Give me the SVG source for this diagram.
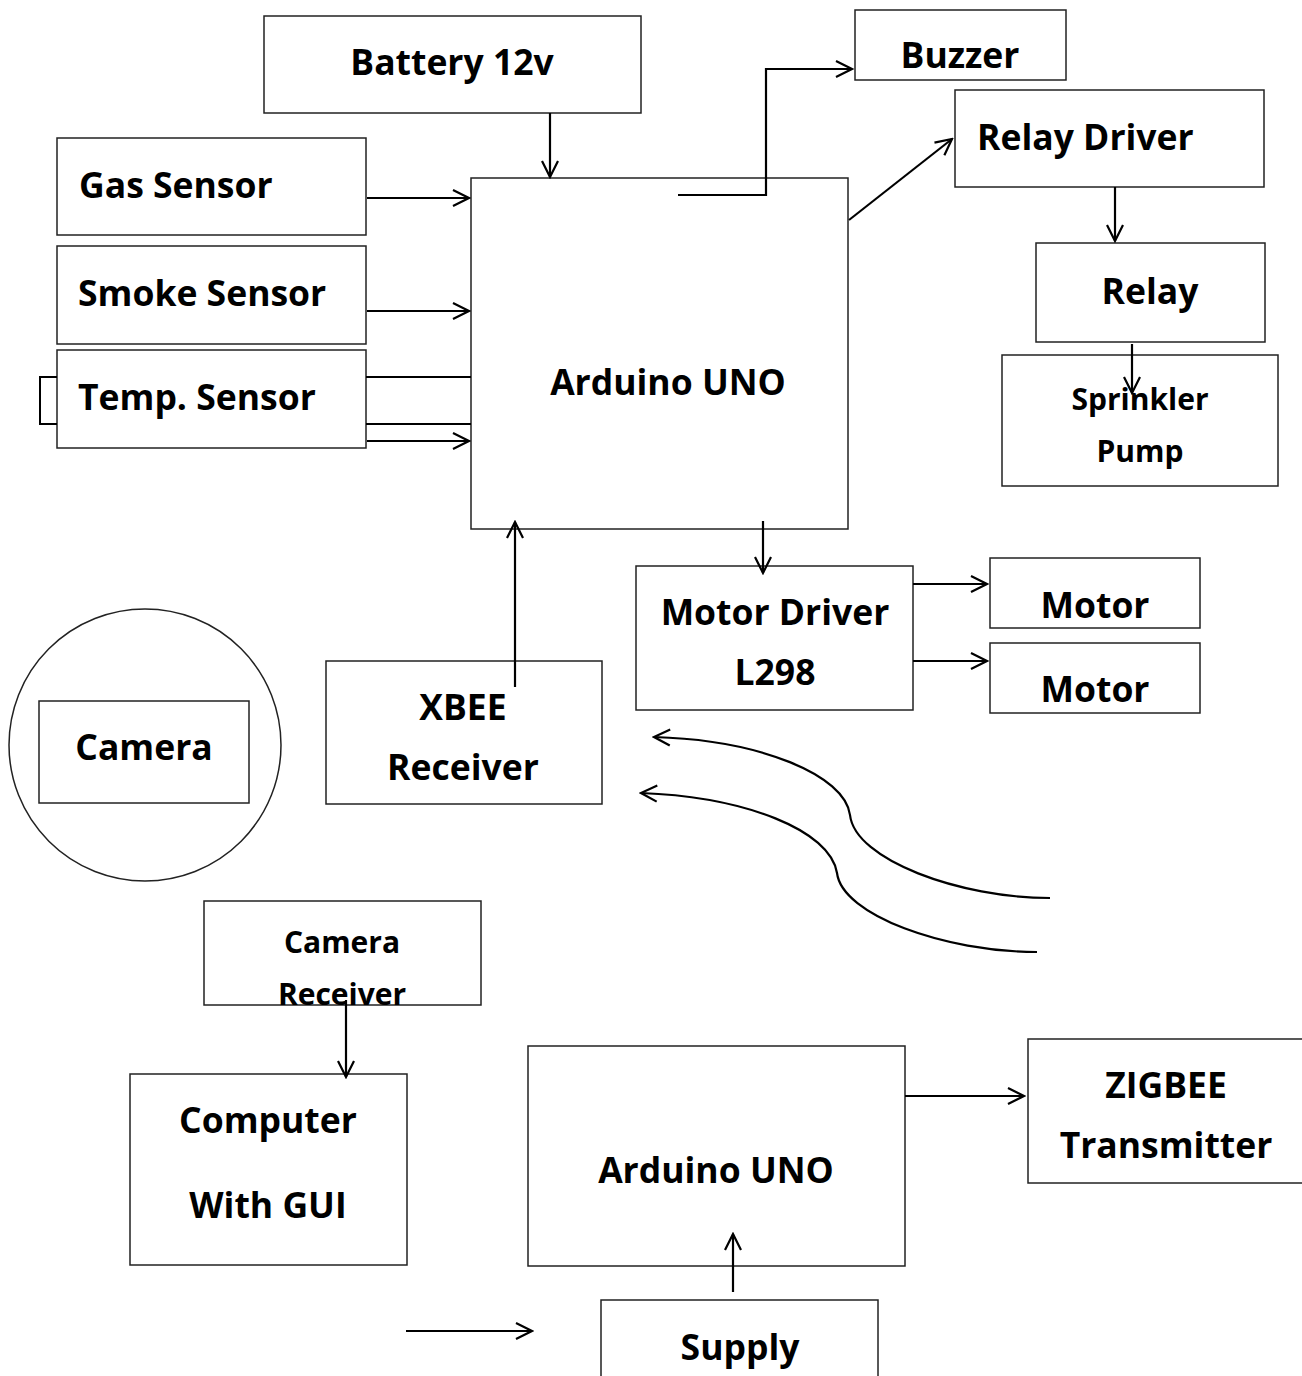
<svg xmlns="http://www.w3.org/2000/svg" width="1302" height="1376" viewBox="0 0 1302 1376">
<style>
.box{fill:#fff;stroke:#222;stroke-width:1.5}
.t{font-family:"Open Sans","Liberation Sans",sans-serif;font-weight:bold;font-size:35.5px;fill:#000}
.s{font-size:30px}
.c{text-anchor:middle}
.ln{fill:none;stroke:#000;stroke-width:2}
.ar{fill:none;stroke:#000;stroke-width:2.2;marker-end:url(#ah)}
</style>
<defs>
<marker id="ah" viewBox="0 0 20 20" refX="18" refY="10" markerWidth="20" markerHeight="20" markerUnits="userSpaceOnUse" orient="auto">
<path d="M2,2 L18,10 L2,18" fill="none" stroke="#000" stroke-width="2.2"/>
</marker>
</defs>
<rect width="1302" height="1376" fill="#fff"/>
<g id="battery"><rect class="box" x="264" y="16" width="377" height="97"/><text class="t c" x="452" y="75">Battery 12v</text></g>
<g id="buzzer"><rect class="box" x="855" y="10" width="211" height="70"/><text class="t c" x="960" y="68">Buzzer</text></g>
<g id="relay-driver"><rect class="box" x="955" y="90" width="309" height="97"/><text class="t" x="977" y="150">Relay Driver</text></g>
<g id="gas"><rect class="box" x="57" y="138" width="309" height="97"/><text class="t" x="79" y="198">Gas Sensor</text></g>
<g id="smoke"><rect class="box" x="57" y="246" width="309" height="98"/><text class="t" x="78" y="306">Smoke Sensor</text></g>
<g id="temp"><rect class="box" x="57" y="350" width="309" height="98"/><text class="t" x="78" y="410">Temp. Sensor</text></g>
<g id="arduino1"><rect class="box" x="471" y="178" width="377" height="351"/><text class="t c" x="668" y="395">Arduino UNO</text></g>
<g id="relay"><rect class="box" x="1036" y="243" width="229" height="99"/><text class="t c" x="1150" y="304">Relay</text></g>
<g id="sprinkler"><rect class="box" x="1002" y="355" width="276" height="131"/><text class="t s c" x="1140" y="410">Sprinkler</text><text class="t s c" x="1140" y="462">Pump</text></g>
<g id="motor-driver"><rect class="box" x="636" y="566" width="277" height="144"/><text class="t c" x="775" y="625">Motor Driver</text><text class="t c" x="775" y="685">L298</text></g>
<g id="motor1"><rect class="box" x="990" y="558" width="210" height="70"/><text class="t c" x="1095" y="618">Motor</text></g>
<g id="motor2"><rect class="box" x="990" y="643" width="210" height="70"/><text class="t c" x="1095" y="702">Motor</text></g>
<g id="camera"><circle class="box" cx="145" cy="745" r="136"/><rect class="box" x="39" y="701" width="210" height="102"/><text class="t c" x="144" y="760">Camera</text></g>
<g id="xbee"><rect class="box" x="326" y="661" width="276" height="143"/><text class="t c" x="463" y="720">XBEE</text><text class="t c" x="463" y="780">Receiver</text></g>
<g id="camera-receiver"><rect class="box" x="204" y="901" width="277" height="104"/><text class="t s c" x="342" y="953">Camera</text><text class="t s c" x="342" y="1005">Receiver</text></g>
<g id="computer"><rect class="box" x="130" y="1074" width="277" height="191"/><text class="t c" x="268" y="1133">Computer</text><text class="t c" x="268" y="1218">With GUI</text></g>
<g id="arduino2"><rect class="box" x="528" y="1046" width="377" height="220"/><text class="t c" x="716" y="1183">Arduino UNO</text></g>
<g id="zigbee"><rect class="box" x="1028" y="1039" width="280" height="144"/><text class="t c" x="1166" y="1098">ZIGBEE</text><text class="t c" x="1166" y="1158">Transmitter</text></g>
<g id="supply"><rect class="box" x="601" y="1300" width="277" height="90"/><text class="t c" x="740" y="1360">Supply</text></g>
<g id="connectors">
<path class="ar" d="M550,113 V177"/>
<path class="ar" d="M367,198 H469"/>
<path class="ar" d="M367,311 H469"/>
<path class="ln" d="M57,377 H40 V424 H57" stroke-width="2.5"/>
<path class="ln" d="M366,377 H471 M366,424 H471" stroke-width="3"/>
<path class="ar" d="M367,441 H469"/>
<path class="ar" d="M678,195 H766 V69 H852"/>
<path class="ar" d="M849,220 L952,139"/>
<path class="ar" d="M1115,187 V241"/>
<path class="ar" d="M1132,344 V393"/>
<path class="ar" d="M763,521 V573"/>
<path class="ar" d="M913,584 H987"/>
<path class="ar" d="M913,661 H987"/>
<path class="ar" d="M515,687 V522"/>
<path class="ar" d="M1050,898 C960,898 855,860 850,815 C845,775 760,740 654,737"/>
<path class="ar" d="M1037,952 C945,952 842,915 837,873 C830,830 745,797 641,793"/>
<path class="ar" d="M346,1000 V1077"/>
<path class="ar" d="M905,1096 H1024"/>
<path class="ar" d="M733,1292 V1234"/>
<path class="ar" d="M406,1331 H532"/>
</g>
</svg>
